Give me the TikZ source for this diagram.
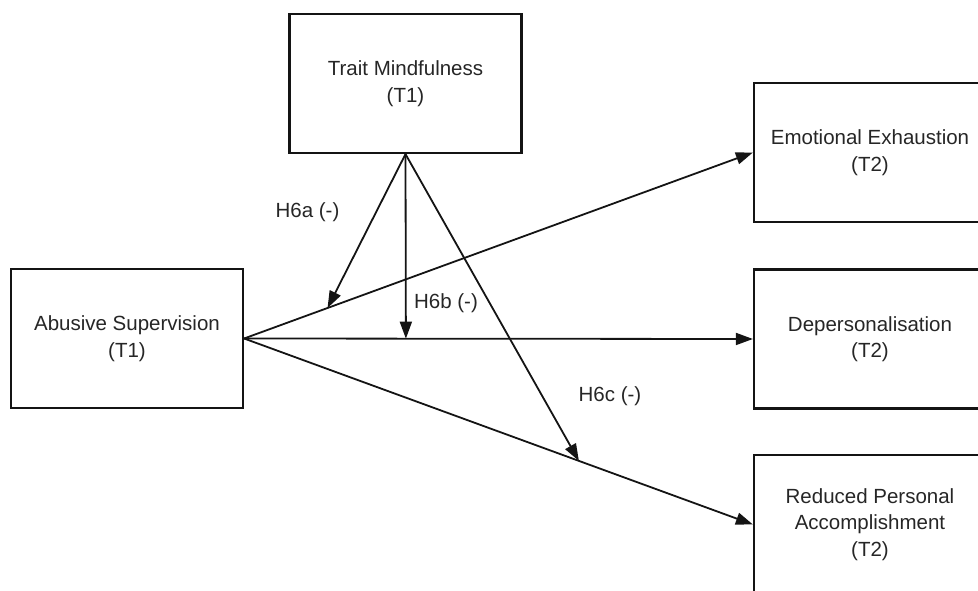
\documentclass[tikz,border=0pt]{standalone}
\usepackage{fontspec}
\setmainfont{Liberation Sans}
\usetikzlibrary{positioning,arrows.meta}
\definecolor{inkline}{HTML}{141414}
\definecolor{inktext}{HTML}{262626}

\begin{document}
\begin{tikzpicture}[x=1pt,y=1pt,font=\fontsize{20.5}{26.5}\selectfont,
    varbox/.style={draw=inkline,line width=2.2pt,minimum width=232pt,minimum height=139pt,
      align=center,text=inktext,inner sep=0pt},
    link/.style={draw=inkline,line width=1.8pt,-{Triangle[length=17pt,width=12pt]}},
    hyp/.style={text=inktext,inner sep=1pt}]
      \useasboundingbox (0,0) rectangle (978,590);
      \clip (0,0) rectangle (978,590);
      \node[varbox] (tm) at (405.5,506.5) {Trait Mindfulness\\(T1)};
      \node[varbox] (as) at (127,251.5) {Abusive Supervision\\(T1)};
      \node[varbox] (ee) at (870,437.5) {Emotional Exhaustion\\(T2)};
      \node[varbox] (dp) at (870,251) {Depersonalisation\\(T2)};
      \node[varbox] (rp) at (870,65.5) {Reduced Personal\\Accomplishment\\(T2)};
      % main paths
      \draw[link] (as.east) -- coordinate[pos=.164] (ha) (ee.west);
      \draw[link] (as.east) -- coordinate[pos=.318] (hb) (dp.west);
      \draw[link] (as.east) -- coordinate[pos=.658] (hc) (rp.west);
      % moderation
      \draw[link] (tm.south) -- (ha); \draw[link] (tm.south) -- (hb);
      \draw[link] (tm.south) -- (hc);
      \node[hyp] (la) at (307.5,378) {H6a (-)};
      \node[hyp] (lb) at (446,287) {H6b (-)};
      \node[hyp] (lc) at (610,194) {H6c (-)};
    \end{tikzpicture}
\end{document}
